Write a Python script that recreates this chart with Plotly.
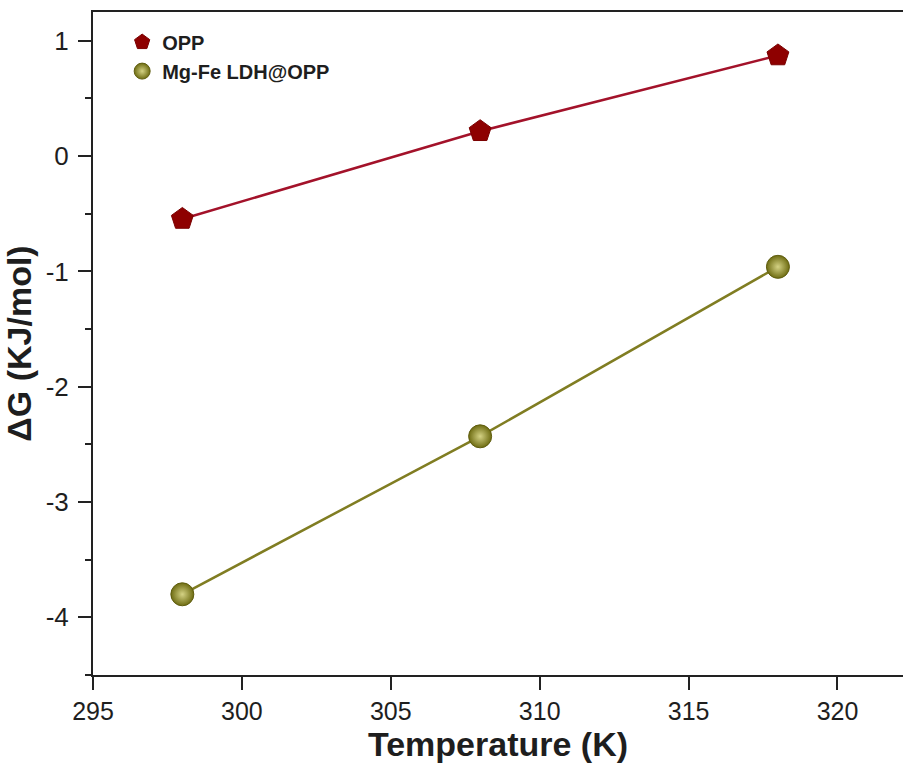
import plotly.graph_objects as go

temperature = [298, 308, 318]
dg_opp = [-0.545, 0.216, 0.873]
dg_ldh = [-3.80, -2.43, -0.96]

x_ticks = [295, 300, 305, 310, 315, 320]
y_ticks = [-4, -3, -2, -1, 0, 1]

opp_line = "#a3122a"
ldh_line = "#807d22"

fig = go.Figure()
# connecting lines (kept out of the legend so the legend shows symbols only)
fig.add_trace(go.Scatter(x=temperature, y=dg_opp, mode="lines", showlegend=False,
                         line=dict(color=opp_line, width=2.5), hoverinfo="skip"))
fig.add_trace(go.Scatter(x=temperature, y=dg_ldh, mode="lines", showlegend=False,
                         line=dict(color=ldh_line, width=2.5), hoverinfo="skip"))
# data symbols
fig.add_trace(go.Scatter(
    x=temperature, y=dg_opp, name="OPP", mode="markers",
    marker=dict(symbol="pentagon", size=23, color="#8e0000",
                line=dict(color="#7a0000", width=1)),
))
fig.add_trace(go.Scatter(
    x=temperature, y=dg_ldh, name="Mg-Fe LDH@OPP", mode="markers",
    marker=dict(symbol="circle", size=23, color="#6e6c12",
                gradient=dict(type="radial", color="#d4d284"),
                line=dict(color="#5f5d0e", width=1)),
))

fig.update_layout(
    width=903, height=763,
    margin=dict(l=93, r=0, t=12, b=88),
    paper_bgcolor="white", plot_bgcolor="white",
    font=dict(family="Liberation Sans, Arial, sans-serif", color="#1e1e1e"),
    showlegend=True,
    legend=dict(x=0.036, y=0.984, xanchor="left", yanchor="top",
                bgcolor="rgba(0,0,0,0)", font=dict(size=20, color="#1e1e1e", weight="bold"),
                tracegroupgap=0),
    xaxis=dict(
        range=[295, 322.2], tickvals=x_ticks, ticktext=[str(v) for v in x_ticks],
        showgrid=False, zeroline=False, showline=True, linecolor="#222222", linewidth=2,
        mirror=True, ticks="outside", ticklen=13, tickwidth=2, tickcolor="#222222",
        tickfont=dict(size=25), ticklabelstandoff=0,
        title=dict(text="Temperature (K)", font=dict(size=34, weight="bold"), standoff=6),
    ),
    yaxis=dict(
        range=[-4.5, 1.25], tickvals=y_ticks, ticktext=[str(v) for v in y_ticks],
        showgrid=False, zeroline=False, showline=True, linecolor="#222222", linewidth=2,
        ticks="outside", ticklen=13, tickwidth=2, tickcolor="#222222",
        tickfont=dict(size=26), ticklabelstandoff=4,
        minor=dict(dtick=0.5, ticks="outside", ticklen=6, tickwidth=2, tickcolor="#222222"),
        title=dict(text="ΔG (KJ/mol)", font=dict(size=34, weight="bold"), standoff=6),
    ),
)

fig.write_html("out.html")
